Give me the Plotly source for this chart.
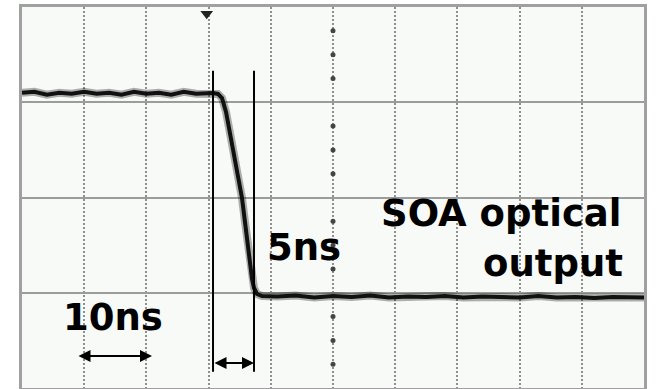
import plotly.graph_objects as go

# Time axis in ns (10 ns / div), vertical in divisions
trace_t = [0, 2, 4, 6, 8, 10, 12, 14, 16, 18, 20, 22, 24, 26, 28, 30.0, 30.71, 31.51,
           32.15, 32.80, 33.44, 34.57, 35.37, 35.85, 36.50, 36.98, 37.30, 37.78, 38.59,
           41, 44, 47, 50, 53, 56, 59, 62, 65, 68, 71, 74, 77, 80, 83, 86, 89, 92, 95,
           98, 100]
trace_v = [3.10, 3.11, 3.08, 3.10, 3.09, 3.11, 3.09, 3.10, 3.08, 3.11, 3.09, 3.10, 3.08,
           3.11, 3.09, 3.10, 3.097, 3.087, 3.044, 2.898, 2.677, 2.320, 1.995, 1.743, 1.386,
           1.144, 1.050, 0.987, 0.966, 0.96, 0.97, 0.95, 0.965, 0.955, 0.97, 0.95, 0.96,
           0.955, 0.965, 0.95, 0.96, 0.955, 0.95, 0.965, 0.95, 0.955, 0.945, 0.955, 0.95,
           0.95]

cursor_t = [30.71, 37.30]
cursor_v = [3.33, 0.17]
center_ticks = [0.25, 0.5, 0.75, 1.25, 1.5, 1.75, 2.25, 2.5, 2.75, 3.25, 3.5, 3.75]
trigger = (29.7, 3.93)

label_soa = "SOA optical"
label_out = "output"
label_5ns = "5ns"
label_10ns = "10ns"
arrow_10 = (8.84, 20.9, 0.336)
arrow_5 = (30.71, 37.30, 0.262)

fig = go.Figure()

# center axis ticks
fig.add_trace(go.Scatter(x=[50] * len(center_ticks), y=center_ticks, mode="markers",
                         marker=dict(symbol="circle", size=5, color="#444444"),
                         hoverinfo="skip", showlegend=False))

# fuzzy band + trace
fig.add_trace(go.Scatter(x=trace_t, y=trace_v, mode="lines",
                         line=dict(color="rgba(0,0,0,0.3)", width=8),
                         hoverinfo="skip", showlegend=False))
fig.add_trace(go.Scatter(x=trace_t, y=trace_v, mode="lines",
                         line=dict(color="#111111", width=4),
                         showlegend=False))

# cursor lines
for t in cursor_t:
    fig.add_trace(go.Scatter(x=[t, t], y=cursor_v, mode="lines",
                             line=dict(color="#000000", width=2),
                             hoverinfo="skip", showlegend=False))

# trigger marker
fig.add_trace(go.Scatter(x=[trigger[0]], y=[trigger[1]], mode="markers",
                         marker=dict(symbol="triangle-down", size=11, color="#222222"),
                         hoverinfo="skip", showlegend=False))

font = dict(family="DejaVu Sans", size=37, color="#000000")
fig.add_annotation(x=77.0, y=1.837, text="<b>%s</b>" % label_soa, showarrow=False,
                   font=font, xanchor="center", yanchor="middle")
fig.add_annotation(x=85.37, y=1.302, text="<b>%s</b>" % label_out, showarrow=False,
                   font=font, xanchor="center", yanchor="middle")
fig.add_annotation(x=45.34, y=1.47, text="<b>%s</b>" % label_5ns, showarrow=False,
                   font=font, xanchor="center", yanchor="middle")
fig.add_annotation(x=14.63, y=0.74, text="<b>%s</b>" % label_10ns, showarrow=False,
                   font=font, xanchor="center", yanchor="middle")

for (a, b, yv) in [arrow_10, arrow_5]:
    fig.add_annotation(x=b, y=yv, ax=a, ay=yv, xref="x", yref="y", axref="x", ayref="y",
                       text="", showarrow=True, arrowhead=2, arrowside="end+start",
                       arrowsize=1.2, arrowwidth=2, arrowcolor="#000000")

fig.update_xaxes(range=[0, 100], dtick=10, tick0=0, showgrid=True, gridcolor="#8f8f8f",
                 gridwidth=2, griddash="2px,2px", showticklabels=False, ticks="",
                 zeroline=False, showline=True, linecolor="#a0a0a0", linewidth=3, mirror=True)
fig.update_yaxes(range=[0, 4], dtick=1, tick0=0, showgrid=True, gridcolor="#9c9c9c",
                 gridwidth=2, showticklabels=False, ticks="", zeroline=False,
                 showline=True, linecolor="#a0a0a0", linewidth=3, mirror=True)

fig.update_layout(width=656, height=389, margin=dict(l=22, r=12, t=7, b=1),
                  paper_bgcolor="#ffffff", plot_bgcolor="#f7faf7", showlegend=False)

fig.write_html("out.html")
